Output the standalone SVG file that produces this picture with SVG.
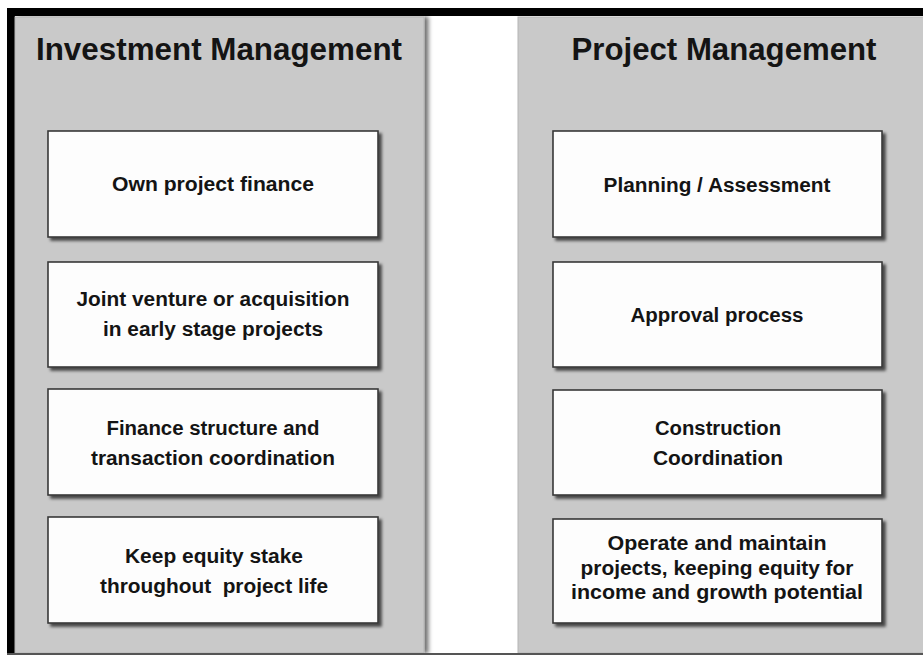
<svg xmlns="http://www.w3.org/2000/svg" width="923" height="655" viewBox="0 0 923 655">
<defs>
<filter id="boxShadow" x="-10%" y="-10%" width="125%" height="130%">
<feDropShadow dx="3" dy="3" stdDeviation="1.6" flood-color="#000" flood-opacity="0.65"/>
</filter>
<filter id="panelShadow" x="-5%" y="-5%" width="115%" height="110%">
<feDropShadow dx="4" dy="0" stdDeviation="2.2" flood-color="#000" flood-opacity="0.55"/>
</filter>
</defs>
<style>
.panel{fill:#c9c9c9;stroke:#b5b5b5;stroke-width:1}
.box{fill:#fdfdfd;stroke:#3a3a3a;stroke-width:1.6;filter:url(#boxShadow)}
.title{font-family:"Liberation Sans",Arial,sans-serif;font-weight:bold;font-size:31px;fill:#141414;text-anchor:middle}
.lbl{font-family:"Liberation Sans",Arial,sans-serif;font-weight:bold;font-size:20px;fill:#141414;text-anchor:middle;white-space:pre}
</style>
<rect x="0" y="0" width="923" height="655" fill="#ffffff"/>
<rect x="7" y="8" width="916" height="647" fill="#000000"/>
<rect x="15" y="16" width="908" height="639" fill="#ffffff"/>
<g id="panel-investment">
<rect class="panel" x="15" y="17" width="409" height="636" filter="url(#panelShadow)"/>
<text class="title" x="219" y="60" textLength="366" lengthAdjust="spacingAndGlyphs">Investment Management</text>
</g>
<g id="panel-project">
<rect class="panel" x="518" y="17" width="406" height="636"/>
<text class="title" x="724" y="60" textLength="305" lengthAdjust="spacingAndGlyphs">Project Management</text>
</g>
<rect x="7" y="653" width="916" height="2" fill="#555555"/>
<g id="connectors"></g>
<g id="own-project-finance">
<rect class="box" x="48" y="131" width="330" height="106"/>
<text class="lbl" x="213" y="191" textLength="202" lengthAdjust="spacingAndGlyphs">Own project finance</text>
</g>
<g id="joint-venture">
<rect class="box" x="48" y="262" width="330" height="105"/>
<text class="lbl" x="213" y="306" textLength="273" lengthAdjust="spacingAndGlyphs">Joint venture or acquisition</text>
<text class="lbl" x="213" y="336" textLength="220" lengthAdjust="spacingAndGlyphs">in early stage projects</text>
</g>
<g id="finance-structure">
<rect class="box" x="48" y="389" width="330" height="106"/>
<text class="lbl" x="213" y="435" textLength="213" lengthAdjust="spacingAndGlyphs">Finance structure and</text>
<text class="lbl" x="213" y="465" textLength="244" lengthAdjust="spacingAndGlyphs">transaction coordination</text>
</g>
<g id="keep-equity">
<rect class="box" x="48" y="517" width="330" height="106"/>
<text class="lbl" x="214" y="563" textLength="178" lengthAdjust="spacingAndGlyphs">Keep equity stake</text>
<text class="lbl" x="214" y="593" textLength="228" lengthAdjust="spacingAndGlyphs">throughout  project life</text>
</g>
<g id="planning-assessment">
<rect class="box" x="553" y="131" width="329" height="106"/>
<text class="lbl" x="717" y="192" textLength="227" lengthAdjust="spacingAndGlyphs">Planning / Assessment</text>
</g>
<g id="approval-process">
<rect class="box" x="553" y="262" width="329" height="105"/>
<text class="lbl" x="717" y="322" textLength="173" lengthAdjust="spacingAndGlyphs">Approval process</text>
</g>
<g id="construction-coordination">
<rect class="box" x="553" y="390" width="329" height="105"/>
<text class="lbl" x="718" y="435" textLength="126" lengthAdjust="spacingAndGlyphs">Construction</text>
<text class="lbl" x="718" y="465" textLength="130" lengthAdjust="spacingAndGlyphs">Coordination</text>
</g>
<g id="operate-maintain">
<rect class="box" x="553" y="519" width="329" height="104"/>
<text class="lbl" x="717" y="550" textLength="219" lengthAdjust="spacingAndGlyphs">Operate and maintain</text>
<text class="lbl" x="717" y="575" textLength="273" lengthAdjust="spacingAndGlyphs">projects, keeping equity for</text>
<text class="lbl" x="717" y="599" textLength="292" lengthAdjust="spacingAndGlyphs">income and growth potential</text>
</g>
</svg>
